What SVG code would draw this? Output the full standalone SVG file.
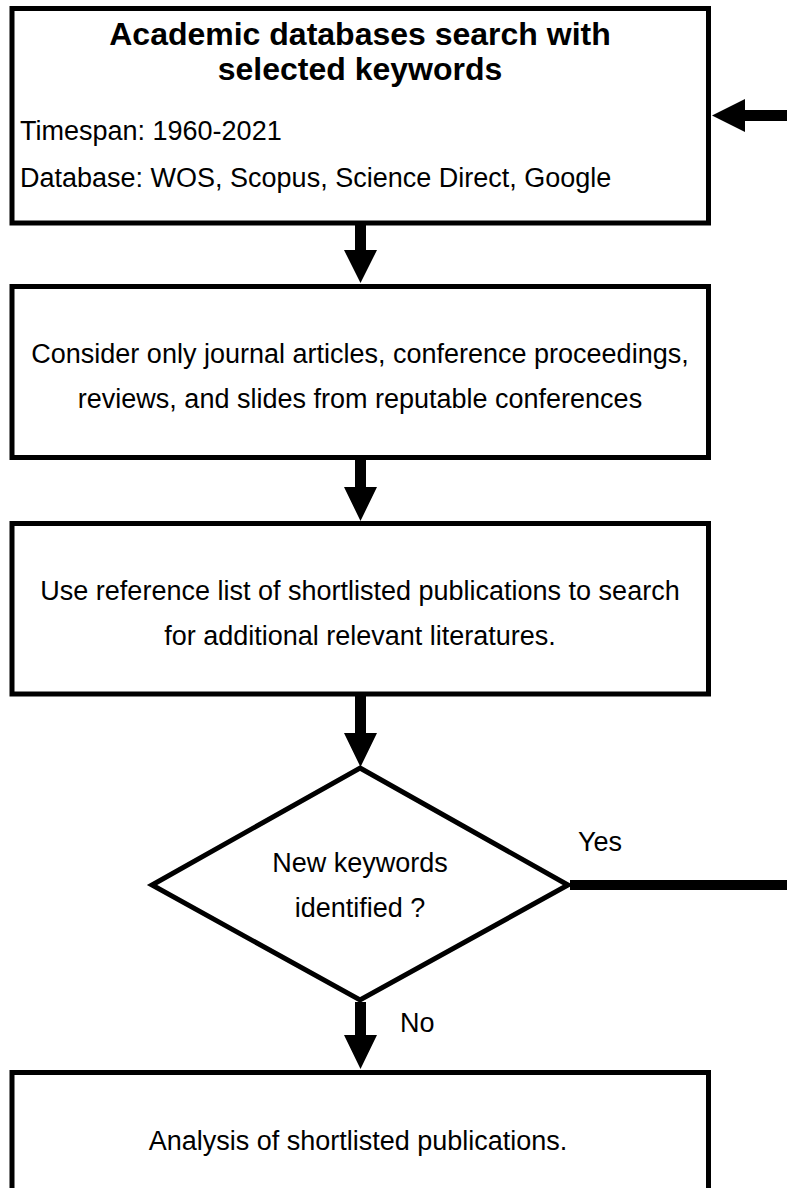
<svg xmlns="http://www.w3.org/2000/svg" width="787" height="1188" viewBox="0 0 787 1188">
<style>
.box{fill:#fff;stroke:#000;stroke-width:5}
.t{font-family:"Liberation Sans",Arial,sans-serif;font-size:27px;fill:#000}
.c{text-anchor:middle}
.b{font-weight:bold;font-size:32px}
.ar{fill:#000}
</style>
<rect width="787" height="1188" fill="#fff"/>
<g id="n1">
<rect class="box" x="12" y="8.5" width="696.5" height="214.5"/>
<text class="t b c" x="360" y="45">Academic databases search with</text>
<text class="t b c" x="360" y="80">selected keywords</text>
<text class="t" x="20" y="140">Timespan: 1960-2021</text>
<text class="t" x="20" y="187">Database: WOS, Scopus, Science Direct, Google</text>
</g>
<g id="n2">
<rect class="box" x="12" y="286.5" width="696.5" height="171"/>
<text class="t c" x="360" y="363">Consider only journal articles, conference proceedings,</text>
<text class="t c" x="360" y="408">reviews, and slides from reputable conferences</text>
</g>
<g id="n3">
<rect class="box" x="12" y="523.5" width="696.5" height="170.5"/>
<text class="t c" x="360" y="600">Use reference list of shortlisted publications to search</text>
<text class="t c" x="360" y="645">for additional relevant literatures.</text>
</g>
<g id="n4">
<polygon class="box" points="360,768 568,885 360,1000 152,885"/>
<text class="t c" x="360" y="872">New keywords</text>
<text class="t c" x="360" y="917">identified ?</text>
</g>
<g id="n5">
<rect class="box" x="12" y="1072.5" width="696.5" height="140"/>
<text class="t c" x="358" y="1150">Analysis of shortlisted publications.</text>
</g>
<g id="connectors">
<polygon class="ar" points="355,225 366,225 366,250 377,250 360.5,283 344,250 355,250"/>
<polygon class="ar" points="355,460 366,460 366,487 377,487 360.5,521 344,487 355,487"/>
<polygon class="ar" points="355,696 366,696 366,733 377,733 360.5,767 344,733 355,733"/>
<polygon class="ar" points="355,1002 366,1002 366,1035 377,1035 360.5,1069 344,1035 355,1035"/>
<line x1="570" y1="885" x2="787" y2="885" stroke="#000" stroke-width="10"/>
<polygon class="ar" points="787,110 745,110 745,99 712,115.5 745,132 745,121 787,121"/>
<text class="t" x="578" y="851">Yes</text>
<text class="t" x="400" y="1032">No</text>
</g>
</svg>
